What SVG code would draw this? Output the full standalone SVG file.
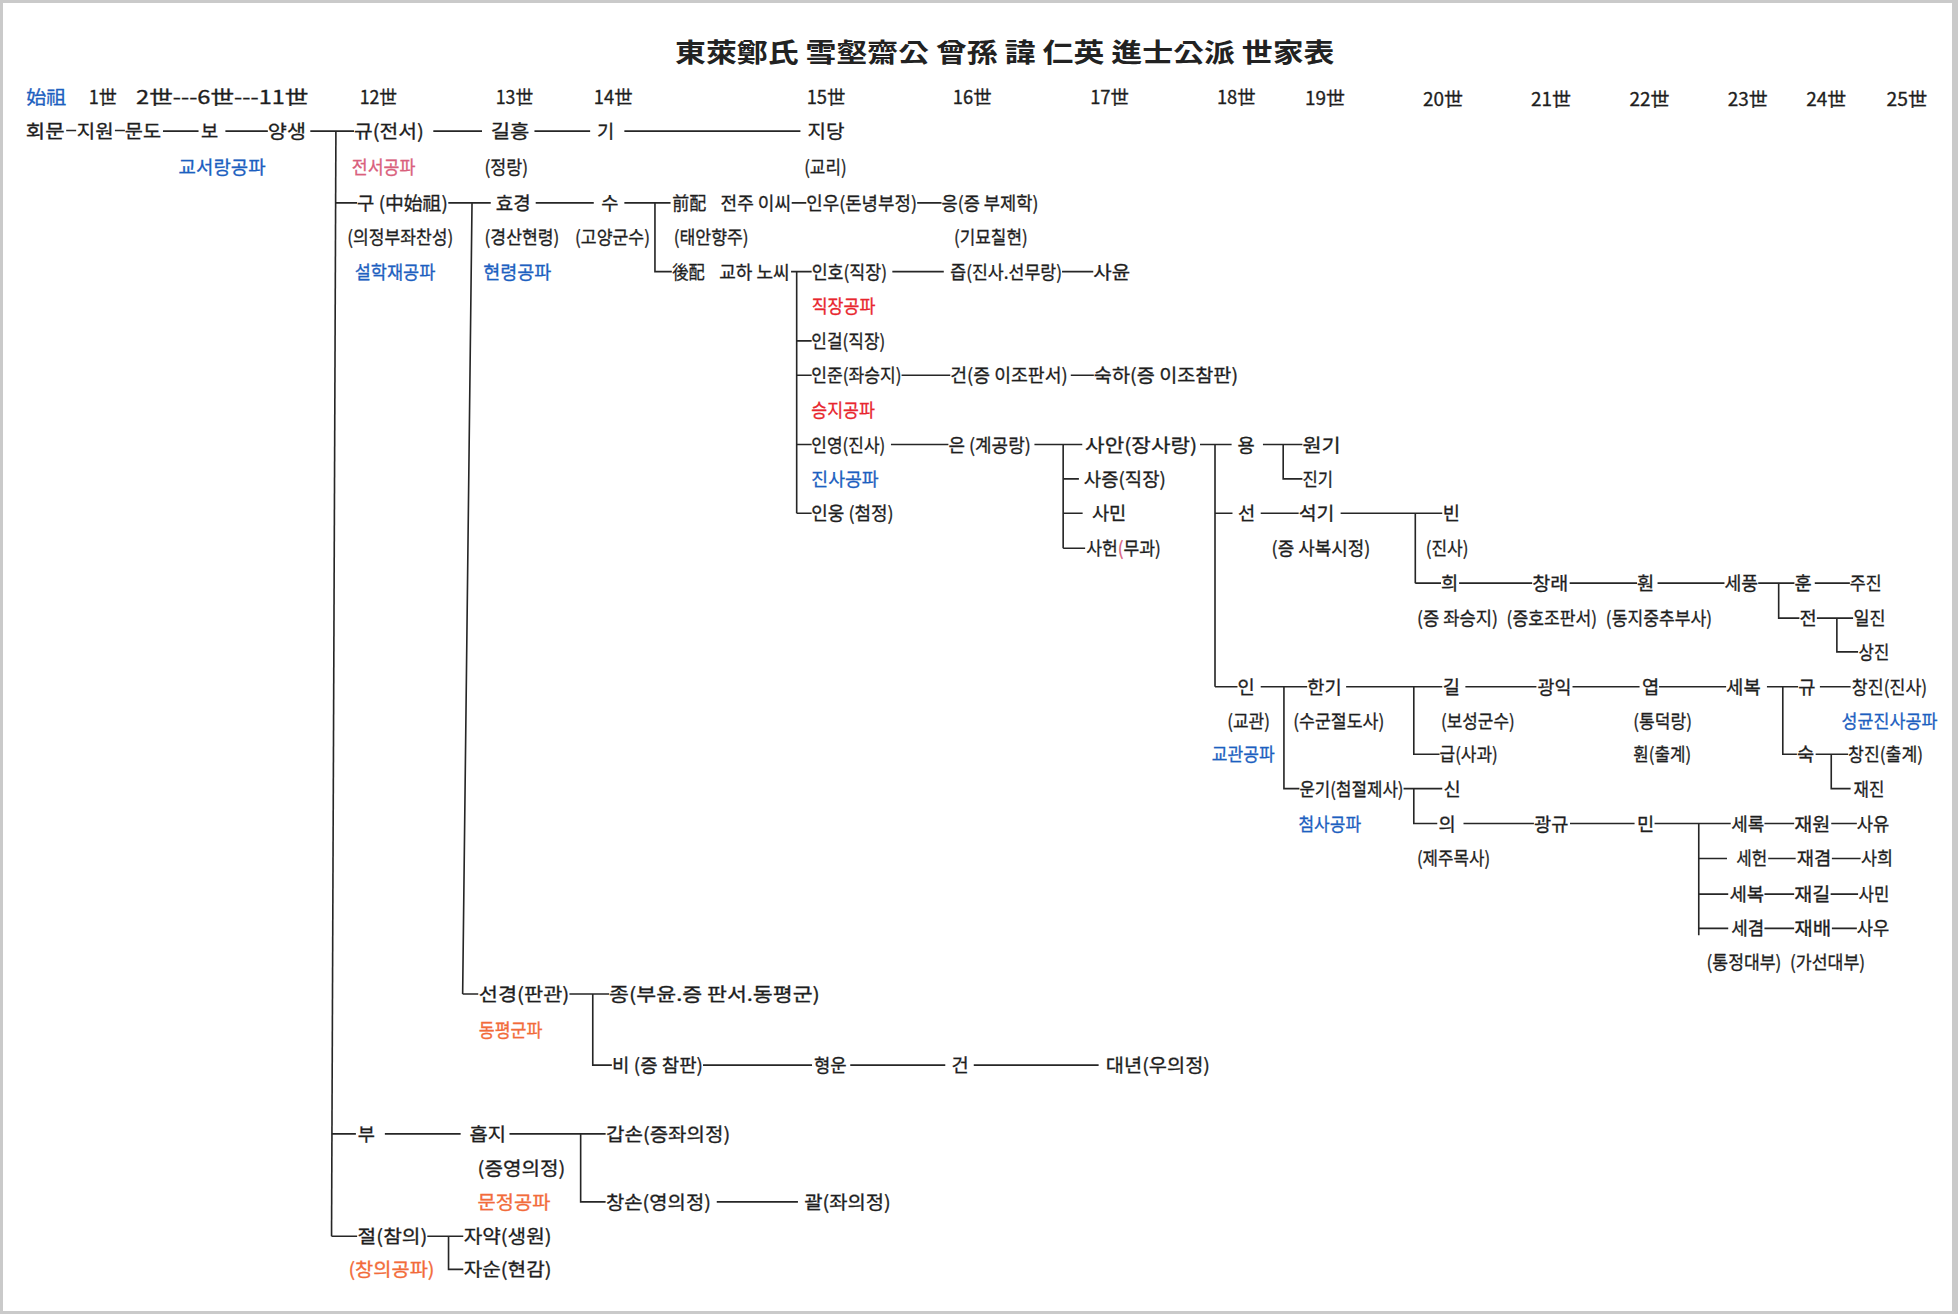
<svg xmlns="http://www.w3.org/2000/svg" width="1958" height="1314" viewBox="0 0 1958 1314">
<style>
.t{font-family:"Noto Sans CJK KR","Noto Sans",sans-serif;font-size:15px;fill:#1e1e1e;stroke:#1e1e1e;stroke-width:0.25}
.h{font-size:21px;font-weight:bold;fill:#222;stroke:none}
.b{fill:#1d5fc0;stroke:#1d5fc0}
.r{fill:#e8262e;stroke:#e8262e}
.p{fill:#d9607c;stroke:#d9607c}
.o{fill:#f26b3a;stroke:#f26b3a}
.c{fill:none;stroke:#262626;stroke-width:1.3}
</style>
<rect width="1958" height="1314" fill="#cacaca"/>
<rect x="3" y="3" width="1949" height="1308" fill="#ffffff"/>
<g transform="scale(1.24872)">
<g id="title"><text class="t h" x="540.6" y="49.5" textLength="528" lengthAdjust="spacingAndGlyphs">東萊鄭氏 雪壑齋公 曾孫 諱 仁英 進士公派 世家表</text></g>
<g id="header">
<text class="t b" x="21" y="83.1" textLength="32" lengthAdjust="spacingAndGlyphs">始祖</text>
<text class="t" x="71" y="83.1" textLength="22.5" lengthAdjust="spacingAndGlyphs">1世</text>
<text class="t" x="109" y="83.1" textLength="138" lengthAdjust="spacingAndGlyphs">2世---6世---11世</text>
<text class="t" x="288" y="83.1" textLength="30" lengthAdjust="spacingAndGlyphs">12世</text>
<text class="t" x="397" y="83.1" textLength="30" lengthAdjust="spacingAndGlyphs">13世</text>
<text class="t" x="475.5" y="83.1" textLength="31" lengthAdjust="spacingAndGlyphs">14世</text>
<text class="t" x="646" y="83.1" textLength="31" lengthAdjust="spacingAndGlyphs">15世</text>
<text class="t" x="763" y="83.1" textLength="31" lengthAdjust="spacingAndGlyphs">16世</text>
<text class="t" x="873" y="83.1" textLength="31" lengthAdjust="spacingAndGlyphs">17世</text>
<text class="t" x="974.5" y="83.1" textLength="31" lengthAdjust="spacingAndGlyphs">18世</text>
<text class="t" x="1045" y="84" textLength="32" lengthAdjust="spacingAndGlyphs">19世</text>
<text class="t" x="1139.5" y="84.6" textLength="32" lengthAdjust="spacingAndGlyphs">20世</text>
<text class="t" x="1226" y="84.6" textLength="32" lengthAdjust="spacingAndGlyphs">21世</text>
<text class="t" x="1305" y="84.6" textLength="32" lengthAdjust="spacingAndGlyphs">22世</text>
<text class="t" x="1383.6" y="84.6" textLength="32" lengthAdjust="spacingAndGlyphs">23世</text>
<text class="t" x="1446.5" y="84.6" textLength="32" lengthAdjust="spacingAndGlyphs">24世</text>
<text class="t" x="1510.8" y="85" textLength="32.5" lengthAdjust="spacingAndGlyphs">25世</text>
</g>
<g id="connectors" class="c">
<path d="M53 104.5H61M92 104.5H100M130.5 105H159M180.5 105H214.5M248.5 105H283.5M347 105H386M428 105H472.6M500 105H641"/>
<path d="M269 105L265.5 990"/>
<path d="M268.8 162.5H286M359 162.5H393M378 162.5L370.5 796M429 162.5H475.5M500 162.5H537M524.5 162.5V217.5H538M634 162.5H645.7M734.5 162.5H754"/>
<path d="M633.5 217.5H650M638 217.5V411M714.6 217.5H755.8M850.5 217.5H875.5"/>
<path d="M638 273H650M638 300.5H650M722 300.5H761M857.5 300.5H876"/>
<path d="M638 356H650M713.5 356H759.5M828.4 356H866.7M851.4 356V439M961 356H986.3M973 356V550M1011.4 356H1043M1027.6 356V383.5H1043"/>
<path d="M851.4 383.5H864M638 411H650M851.4 411H867M973 411H987M1009.6 411H1040M1073.6 411H1155M1133.4 411V467M851.4 439H869"/>
<path d="M1133.4 467H1154M1168.5 467H1227M1257 467H1311M1327.4 467H1381M1408 467H1437M1424.4 467V495H1441M1453.3 467H1481.4"/>
<path d="M1455 495H1484M1471 495V522H1488"/>
<path d="M973 550H991M1009.6 550H1046.8M1028.2 550V631.5H1040.6M1078 550H1155M1132.2 550V604H1152.8M1173.5 550H1230.4M1259.3 550H1313M1328.6 550H1382.3M1415 550H1440M1427.7 550V604H1439M1457.4 550H1482"/>
<path d="M1454 604H1480M1466.5 604V631.5H1482"/>
<path d="M1124 631.5H1155M1132.2 631.5V659.5H1151"/>
<path d="M1172 659.5H1228.4M1257.3 659.5H1309M1325 659.5H1386M1360.4 659.5V749M1413 659.5H1436.8M1466.5 659.5H1487"/>
<path d="M1360.4 687.5H1383M1416 687.5H1438M1467 687.5H1490M1360.4 716H1384M1413 716H1436.8M1466 716H1488M1360.4 743.5H1384M1413 743.5H1436.8M1467 743.5H1487"/>
<path d="M370.5 796H383M456 796H487.8M474.7 796V853H490M563 853H650.3M680.9 853H757M779.8 853H879.8"/>
<path d="M265.8 908H285M308.2 908H368.9M408 908H485M465 908V962.5H485M574 962.5H639"/>
<path d="M265.5 990H286M342.2 990H371M359.2 990V1016.5H371"/>
</g>
<g id="n-hoemun"><text class="t" x="20.7" y="110.6" textLength="31" lengthAdjust="spacingAndGlyphs">회문</text></g>
<g id="n-jiwon"><text class="t" x="61.5" y="110.6" textLength="29.5" lengthAdjust="spacingAndGlyphs">지원</text></g>
<g id="n-mundo"><text class="t" x="100" y="110.6" textLength="29" lengthAdjust="spacingAndGlyphs">문도</text></g>
<g id="n-bo"><text class="t" x="161" y="110.6">보</text></g>
<g id="n-yangsaeng"><text class="t" x="214.5" y="110.6" textLength="30.5" lengthAdjust="spacingAndGlyphs">양생</text>
<text class="t b" x="143" y="139.6" textLength="69.7" lengthAdjust="spacingAndGlyphs">교서랑공파</text></g>
<g id="n-gyu12"><text class="t" x="283.5" y="110.6" textLength="56" lengthAdjust="spacingAndGlyphs">규(전서)</text>
<text class="t p" x="281.7" y="139.6" textLength="51" lengthAdjust="spacingAndGlyphs">전서공파</text></g>
<g id="n-gilheung"><text class="t" x="393" y="110.6" textLength="31" lengthAdjust="spacingAndGlyphs">길흥</text>
<text class="t" x="388" y="139.6" textLength="35" lengthAdjust="spacingAndGlyphs">(정랑)</text></g>
<g id="n-gi14"><text class="t" x="478" y="110.6">기</text></g>
<g id="n-jidang"><text class="t" x="646.7" y="110.6" textLength="29.7" lengthAdjust="spacingAndGlyphs">지당</text>
<text class="t" x="644" y="139.6" textLength="34" lengthAdjust="spacingAndGlyphs">(교리)</text></g>
<g id="n-gu"><text class="t" x="286" y="168.1" textLength="72.6" lengthAdjust="spacingAndGlyphs">구 (中始祖)</text>
<text class="t" x="278" y="195.6" textLength="85" lengthAdjust="spacingAndGlyphs">(의정부좌찬성)</text>
<text class="t b" x="284" y="223.1" textLength="64.6" lengthAdjust="spacingAndGlyphs">설학재공파</text></g>
<g id="n-hyogyeong"><text class="t" x="397" y="168.1" textLength="28" lengthAdjust="spacingAndGlyphs">효경</text>
<text class="t" x="388" y="195.6" textLength="60" lengthAdjust="spacingAndGlyphs">(경산현령)</text>
<text class="t b" x="387" y="223.1" textLength="54.5" lengthAdjust="spacingAndGlyphs">현령공파</text></g>
<g id="n-su"><text class="t" x="481.5" y="168.1">수</text>
<text class="t" x="460.5" y="195.6" textLength="60" lengthAdjust="spacingAndGlyphs">(고양군수)</text></g>
<g id="n-jeonbae"><text class="t" x="538.4" y="168.1" textLength="27.2" lengthAdjust="spacingAndGlyphs">前配</text>
<text class="t" x="577" y="168.1" textLength="56.5" lengthAdjust="spacingAndGlyphs">전주 이씨</text>
<text class="t" x="539.5" y="195.6" textLength="60" lengthAdjust="spacingAndGlyphs">(태안향주)</text></g>
<g id="n-inu"><text class="t" x="645.7" y="168.1" textLength="88.6" lengthAdjust="spacingAndGlyphs">인우(돈녕부정)</text></g>
<g id="n-eung"><text class="t" x="754" y="168.1" textLength="77.6" lengthAdjust="spacingAndGlyphs">응(증 부제학)</text>
<text class="t" x="764" y="195.6" textLength="59" lengthAdjust="spacingAndGlyphs">(기묘칠현)</text></g>
<g id="n-hubae"><text class="t" x="538.4" y="223.1" textLength="26" lengthAdjust="spacingAndGlyphs">後配</text>
<text class="t" x="576" y="223.1" textLength="56.4" lengthAdjust="spacingAndGlyphs">교하 노씨</text></g>
<g id="n-inho"><text class="t" x="650" y="223.1" textLength="60.4" lengthAdjust="spacingAndGlyphs">인호(직장)</text>
<text class="t r" x="650" y="250.6" textLength="51" lengthAdjust="spacingAndGlyphs">직장공파</text></g>
<g id="n-jeup"><text class="t" x="761" y="223.1" textLength="89.5" lengthAdjust="spacingAndGlyphs">즙(진사.선무랑)</text></g>
<g id="n-sayun"><text class="t" x="875.5" y="223.1" textLength="29.5" lengthAdjust="spacingAndGlyphs">사윤</text></g>
<g id="n-ingeol"><text class="t" x="649.7" y="278.6" textLength="59.3" lengthAdjust="spacingAndGlyphs">인걸(직장)</text></g>
<g id="n-injun"><text class="t" x="649.7" y="306.1" textLength="72.3" lengthAdjust="spacingAndGlyphs">인준(좌승지)</text>
<text class="t r" x="649.7" y="333.6" textLength="51" lengthAdjust="spacingAndGlyphs">승지공파</text></g>
<g id="n-geon16"><text class="t" x="761" y="306.1" textLength="94" lengthAdjust="spacingAndGlyphs">건(증 이조판서)</text></g>
<g id="n-sukha"><text class="t" x="876" y="306.1" textLength="115.5" lengthAdjust="spacingAndGlyphs">숙하(증 이조참판)</text></g>
<g id="n-inyeong"><text class="t" x="649.7" y="361.6" textLength="59.3" lengthAdjust="spacingAndGlyphs">인영(진사)</text>
<text class="t b" x="649.7" y="389.1" textLength="54" lengthAdjust="spacingAndGlyphs">진사공파</text></g>
<g id="n-eun"><text class="t" x="759.5" y="361.6" textLength="66" lengthAdjust="spacingAndGlyphs">은 (계공랑)</text></g>
<g id="n-saan"><text class="t" x="869" y="361.6" textLength="89.7" lengthAdjust="spacingAndGlyphs">사안(장사랑)</text></g>
<g id="n-sajeung"><text class="t" x="868" y="389.1" textLength="65.6" lengthAdjust="spacingAndGlyphs">사증(직장)</text></g>
<g id="n-samin"><text class="t" x="874.4" y="416.6" textLength="27.6" lengthAdjust="spacingAndGlyphs">사민</text></g>
<g id="n-saheon"><text class="t" x="869.8" y="444.6" textLength="59.8" lengthAdjust="spacingAndGlyphs">사헌<tspan class="p">(</tspan>무과)</text></g>
<g id="n-inung"><text class="t" x="649.7" y="416.6" textLength="66" lengthAdjust="spacingAndGlyphs">인웅 (첨정)</text></g>
<g id="n-yong"><text class="t" x="991" y="361.6">용</text></g>
<g id="n-wongi"><text class="t" x="1043" y="361.6" textLength="30.6" lengthAdjust="spacingAndGlyphs">원기</text></g>
<g id="n-jingi"><text class="t" x="1043" y="389.1" textLength="24.5" lengthAdjust="spacingAndGlyphs">진기</text></g>
<g id="n-seon"><text class="t" x="991.5" y="416.6">선</text></g>
<g id="n-seokgi"><text class="t" x="1040" y="416.6" textLength="28.6" lengthAdjust="spacingAndGlyphs">석기</text>
<text class="t" x="1018.3" y="444.6" textLength="79" lengthAdjust="spacingAndGlyphs">(증 사복시정)</text></g>
<g id="n-bin"><text class="t" x="1155.3" y="416.6">빈</text>
<text class="t" x="1141.7" y="444.6" textLength="34.3" lengthAdjust="spacingAndGlyphs">(진사)</text></g>
<g id="n-hui"><text class="t" x="1154" y="472.6">희</text>
<text class="t" x="1134.7" y="500.6" textLength="65" lengthAdjust="spacingAndGlyphs">(증 좌승지)</text></g>
<g id="n-changrae"><text class="t" x="1227" y="472.6" textLength="29" lengthAdjust="spacingAndGlyphs">창래</text>
<text class="t" x="1206.5" y="500.6" textLength="72.5" lengthAdjust="spacingAndGlyphs">(증호조판서)</text></g>
<g id="n-hwon"><text class="t" x="1311" y="472.6">훤</text>
<text class="t" x="1286" y="500.6" textLength="85" lengthAdjust="spacingAndGlyphs">(동지중추부사)</text></g>
<g id="n-sepung"><text class="t" x="1381" y="472.6" textLength="27" lengthAdjust="spacingAndGlyphs">세풍</text></g>
<g id="n-hun"><text class="t" x="1437" y="472.6">훈</text></g>
<g id="n-jujin"><text class="t" x="1481.4" y="472.6" textLength="25.6" lengthAdjust="spacingAndGlyphs">주진</text></g>
<g id="n-jeon"><text class="t" x="1441" y="500.6">전</text></g>
<g id="n-iljin"><text class="t" x="1484.3" y="500.6" textLength="25.7" lengthAdjust="spacingAndGlyphs">일진</text></g>
<g id="n-sangjin"><text class="t" x="1488.4" y="527.6" textLength="24.6" lengthAdjust="spacingAndGlyphs">상진</text></g>
<g id="n-in18"><text class="t" x="991" y="555.6">인</text>
<text class="t" x="982.8" y="582.6" textLength="34.2" lengthAdjust="spacingAndGlyphs">(교관)</text>
<text class="t b" x="970.4" y="609.6" textLength="50.4" lengthAdjust="spacingAndGlyphs">교관공파</text></g>
<g id="n-hangi"><text class="t" x="1046.8" y="555.6" textLength="27.6" lengthAdjust="spacingAndGlyphs">한기</text>
<text class="t" x="1035.6" y="582.6" textLength="73" lengthAdjust="spacingAndGlyphs">(수군절도사)</text></g>
<g id="n-gil"><text class="t" x="1155.3" y="555.6">길</text>
<text class="t" x="1154" y="582.6" textLength="59" lengthAdjust="spacingAndGlyphs">(보성군수)</text></g>
<g id="n-gwangik"><text class="t" x="1231.3" y="555.6" textLength="27.2" lengthAdjust="spacingAndGlyphs">광익</text></g>
<g id="n-yeop"><text class="t" x="1315" y="555.6">엽</text>
<text class="t" x="1308" y="582.6" textLength="47" lengthAdjust="spacingAndGlyphs">(통덕랑)</text>
<text class="t" x="1308" y="609.6" textLength="46.3" lengthAdjust="spacingAndGlyphs">훤(출계)</text></g>
<g id="n-sebok23"><text class="t" x="1382.3" y="555.6" textLength="27.7" lengthAdjust="spacingAndGlyphs">세복</text></g>
<g id="n-gyu24"><text class="t" x="1440" y="555.6">규</text></g>
<g id="n-changjin1"><text class="t" x="1483" y="555.6" textLength="60.3" lengthAdjust="spacingAndGlyphs">창진(진사)</text>
<text class="t b" x="1474.8" y="582.6" textLength="76.7" lengthAdjust="spacingAndGlyphs">성균진사공파</text></g>
<g id="n-geup"><text class="t" x="1152.8" y="609.6" textLength="46.7" lengthAdjust="spacingAndGlyphs">급(사과)</text></g>
<g id="n-suk"><text class="t" x="1439" y="609.6">숙</text></g>
<g id="n-changjin2"><text class="t" x="1480" y="609.6" textLength="60" lengthAdjust="spacingAndGlyphs">창진(출계)</text></g>
<g id="n-jaejin"><text class="t" x="1484.3" y="637.1" textLength="24.7" lengthAdjust="spacingAndGlyphs">재진</text></g>
<g id="n-ungi"><text class="t" x="1040.6" y="637.1" textLength="83.4" lengthAdjust="spacingAndGlyphs">운기(첨절제사)</text>
<text class="t b" x="1039.8" y="665.1" textLength="50.2" lengthAdjust="spacingAndGlyphs">첨사공파</text></g>
<g id="n-sin"><text class="t" x="1156" y="637.1">신</text></g>
<g id="n-ui"><text class="t" x="1152" y="665.1">의</text>
<text class="t" x="1134.7" y="693.1" textLength="58.6" lengthAdjust="spacingAndGlyphs">(제주목사)</text></g>
<g id="n-gwanggyu"><text class="t" x="1228.4" y="665.1" textLength="27.6" lengthAdjust="spacingAndGlyphs">광규</text></g>
<g id="n-min"><text class="t" x="1311" y="665.1">민</text></g>
<g id="n-serok"><text class="t" x="1386.4" y="665.1" textLength="26.4" lengthAdjust="spacingAndGlyphs">세록</text></g>
<g id="n-jaewon"><text class="t" x="1436.8" y="665.1" textLength="28.9" lengthAdjust="spacingAndGlyphs">재원</text></g>
<g id="n-sayu"><text class="t" x="1487" y="665.1" textLength="26" lengthAdjust="spacingAndGlyphs">사유</text></g>
<g id="n-seheon"><text class="t" x="1390.5" y="693.1" textLength="24.8" lengthAdjust="spacingAndGlyphs">세헌</text></g>
<g id="n-jaegyeom"><text class="t" x="1438.8" y="693.1" textLength="27.7" lengthAdjust="spacingAndGlyphs">재겸</text></g>
<g id="n-sahui"><text class="t" x="1490.4" y="693.1" textLength="25.6" lengthAdjust="spacingAndGlyphs">사희</text></g>
<g id="n-sebok24"><text class="t" x="1385" y="721.6" textLength="27.8" lengthAdjust="spacingAndGlyphs">세복</text></g>
<g id="n-jaegil"><text class="t" x="1436.8" y="721.6" textLength="28.9" lengthAdjust="spacingAndGlyphs">재길</text></g>
<g id="n-samin2"><text class="t" x="1488.4" y="721.6" textLength="24.6" lengthAdjust="spacingAndGlyphs">사민</text></g>
<g id="n-segyeom"><text class="t" x="1386.4" y="749.1" textLength="26.4" lengthAdjust="spacingAndGlyphs">세겸</text>
<text class="t" x="1366.6" y="775.6" textLength="60" lengthAdjust="spacingAndGlyphs">(통정대부)</text></g>
<g id="n-jaebae"><text class="t" x="1436.8" y="749.1" textLength="29.7" lengthAdjust="spacingAndGlyphs">재배</text>
<text class="t" x="1433.5" y="775.6" textLength="60.2" lengthAdjust="spacingAndGlyphs">(가선대부)</text></g>
<g id="n-sau"><text class="t" x="1487" y="749.1" textLength="26" lengthAdjust="spacingAndGlyphs">사우</text></g>
<g id="n-seongyeong"><text class="t" x="383.4" y="801.6" textLength="72.6" lengthAdjust="spacingAndGlyphs">선경(판관)</text>
<text class="t o" x="383.4" y="830.6" textLength="51" lengthAdjust="spacingAndGlyphs">동평군파</text></g>
<g id="n-jong"><text class="t" x="487.8" y="801.6" textLength="168.8" lengthAdjust="spacingAndGlyphs">종(부윤.증 판서.동평군)</text></g>
<g id="n-bi"><text class="t" x="490.2" y="858.6" textLength="72.8" lengthAdjust="spacingAndGlyphs">비 (증 참판)</text></g>
<g id="n-hyeongun"><text class="t" x="651.8" y="858.6" textLength="26.2" lengthAdjust="spacingAndGlyphs">형운</text></g>
<g id="n-geon17"><text class="t" x="761.9" y="858.6">건</text></g>
<g id="n-daenyeon"><text class="t" x="885.6" y="858.6" textLength="83.4" lengthAdjust="spacingAndGlyphs">대년(우의정)</text></g>
<g id="n-bu"><text class="t" x="286.4" y="913.6">부</text></g>
<g id="n-heupji"><text class="t" x="376" y="913.6" textLength="29.3" lengthAdjust="spacingAndGlyphs">흡지</text>
<text class="t" x="382.5" y="941.1" textLength="70.3" lengthAdjust="spacingAndGlyphs">(증영의정)</text>
<text class="t o" x="382.5" y="968.1" textLength="58.2" lengthAdjust="spacingAndGlyphs">문정공파</text></g>
<g id="n-gapson"><text class="t" x="485.3" y="913.6" textLength="99.5" lengthAdjust="spacingAndGlyphs">갑손(증좌의정)</text></g>
<g id="n-changson"><text class="t" x="485.3" y="968.1" textLength="84" lengthAdjust="spacingAndGlyphs">창손(영의정)</text></g>
<g id="n-gwal"><text class="t" x="644" y="968.1" textLength="69.4" lengthAdjust="spacingAndGlyphs">괄(좌의정)</text></g>
<g id="n-jeol"><text class="t" x="286.4" y="995.6" textLength="55.8" lengthAdjust="spacingAndGlyphs">절(참의)</text>
<text class="t o" x="279" y="1022.1" textLength="69" lengthAdjust="spacingAndGlyphs">(창의공파)</text></g>
<g id="n-jayak"><text class="t" x="371.3" y="995.6" textLength="70.4" lengthAdjust="spacingAndGlyphs">자약(생원)</text></g>
<g id="n-jasun"><text class="t" x="371.3" y="1022.1" textLength="70.4" lengthAdjust="spacingAndGlyphs">자순(현감)</text></g>
</g>
</svg>
